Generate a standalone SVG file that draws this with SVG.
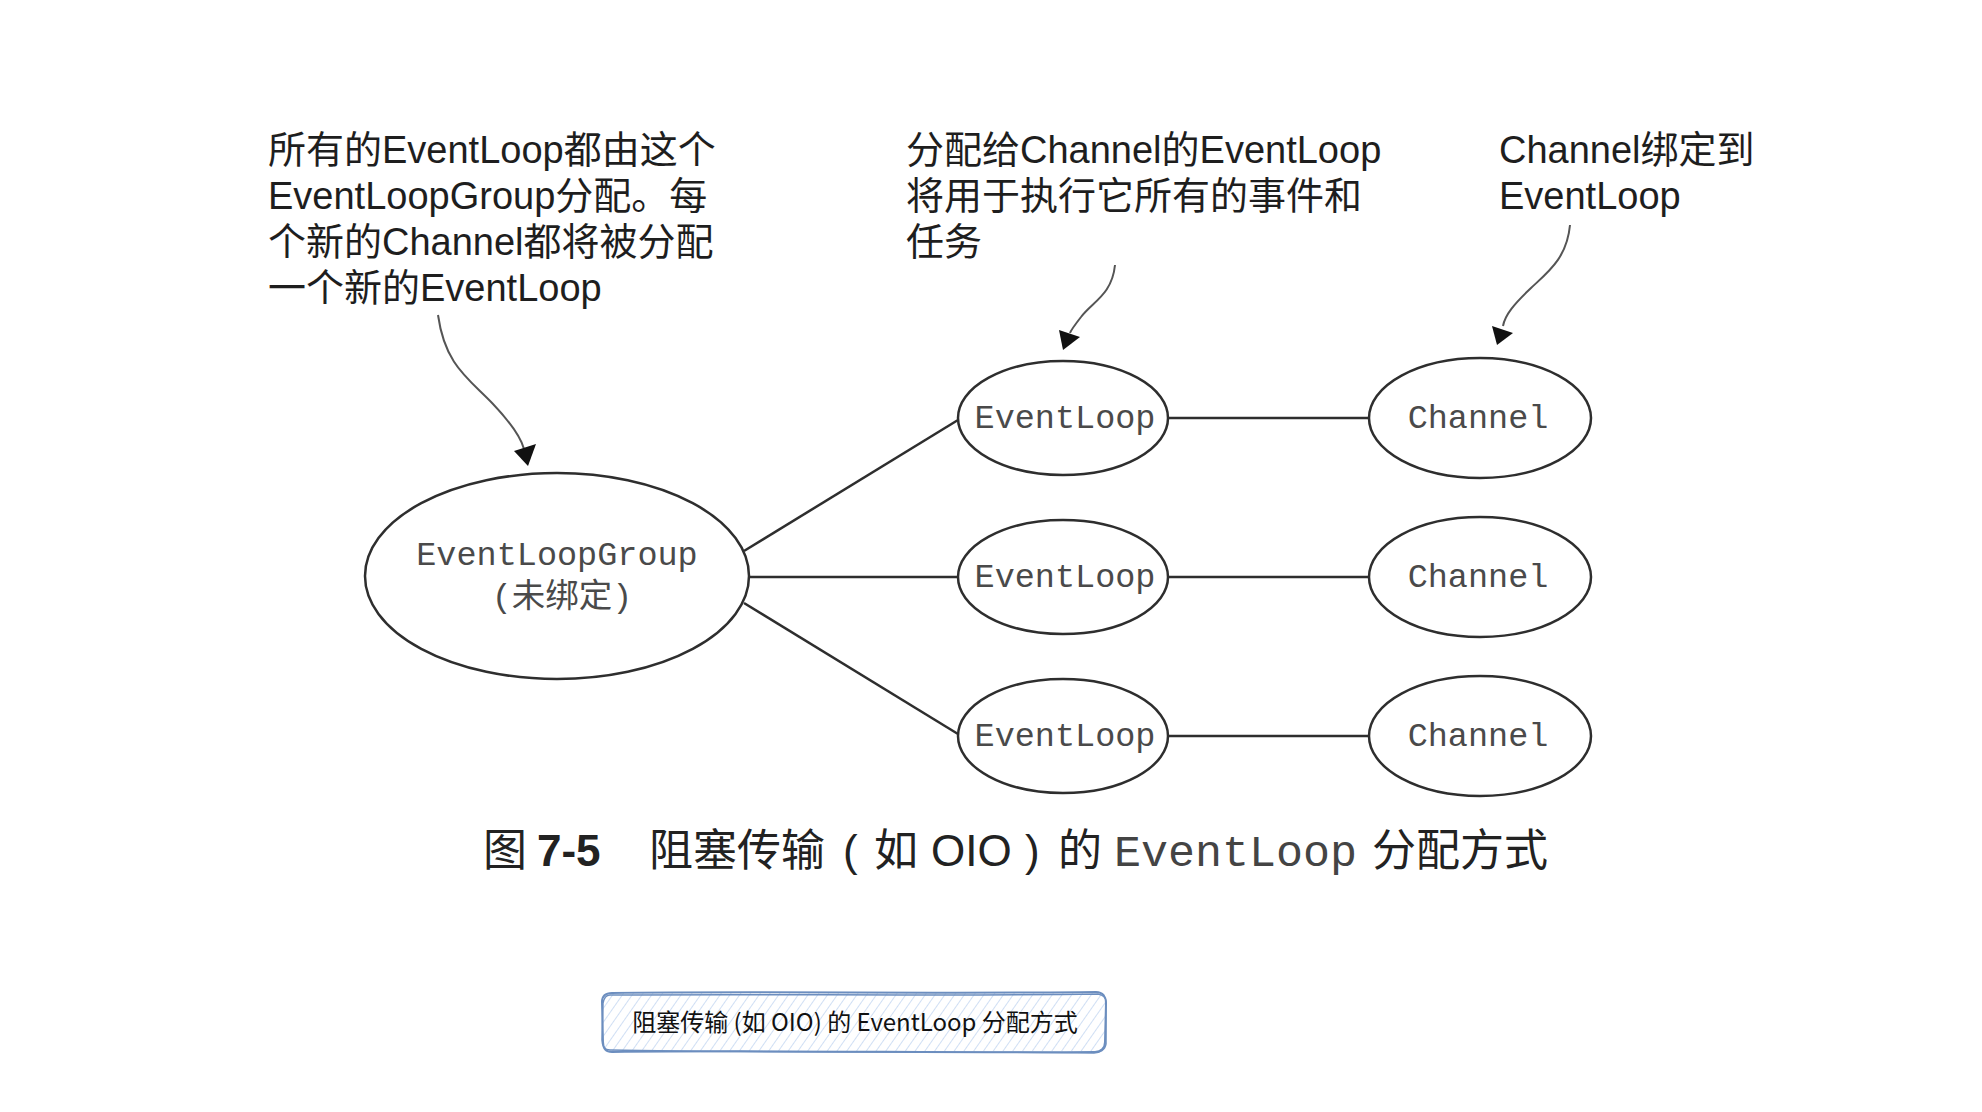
<svg xmlns="http://www.w3.org/2000/svg" width="1982" height="1112" viewBox="0 0 1982 1112">
<style>
.note{font-family:"Liberation Sans","Noto Sans CJK SC",sans-serif;font-size:38px;fill:#1e1e1e}
.node{fill:#fff;stroke:#2e2e2e;stroke-width:2.5}
.mono{font-family:"Liberation Mono","Noto Sans CJK SC",monospace;font-size:33.5px;fill:#4a4a4a;text-anchor:middle}
.edge{stroke:#2e2e2e;stroke-width:2.5;fill:none}
.curve{stroke:#555;stroke-width:2;fill:none}
.head{fill:#111}
.cap{font-family:"Liberation Sans","Noto Sans CJK SC",sans-serif;font-size:44px;fill:#222}
.capmono{font-family:"Liberation Mono",monospace;font-size:45px;fill:#444}
.box{font-family:"Noto Sans CJK SC","Liberation Sans",sans-serif;font-size:24px;fill:#111;text-anchor:middle}
</style>
<defs>
<pattern id="hatch" width="8" height="8" patternUnits="userSpaceOnUse" patternTransform="rotate(35)">
<line x1="0" y1="0" x2="0" y2="8" stroke="#b7cdee" stroke-width="1.3"/>
</pattern>
</defs>
<rect width="1982" height="1112" fill="#fff"/>

<g id="note-group">
<text class="note" x="268" y="163">所有的EventLoop都由这个</text>
<text class="note" x="268" y="209">EventLoopGroup分配。每</text>
<text class="note" x="268" y="255">个新的Channel都将被分配</text>
<text class="note" x="268" y="301">一个新的EventLoop</text>
</g>
<g id="note-eventloop">
<text class="note" x="906" y="163">分配给Channel的EventLoop</text>
<text class="note" x="906" y="209">将用于执行它所有的事件和</text>
<text class="note" x="906" y="255">任务</text>
</g>
<g id="note-channel">
<text class="note" x="1499" y="163">Channel绑定到</text>
<text class="note" x="1499" y="209">EventLoop</text>
</g>

<g id="connectors">
<line class="edge" x1="744" y1="551" x2="958" y2="420"/>
<line class="edge" x1="750" y1="577" x2="958" y2="577"/>
<line class="edge" x1="744" y1="603" x2="958" y2="734"/>
<line class="edge" x1="1168" y1="418" x2="1369" y2="418"/>
<line class="edge" x1="1168" y1="577" x2="1369" y2="577"/>
<line class="edge" x1="1168" y1="736" x2="1369" y2="736"/>
<path class="curve" d="M438,315 C445,365 468,378 493,404 C510,422 521,438 524,449"/>
<polygon class="head" points="514,451 536,444 528,466"/>
<path class="curve" d="M1115,265 C1112,295 1092,302 1081,317 C1074,326 1071,330 1070,333"/>
<polygon class="head" points="1059,330 1080,337 1063,350"/>
<path class="curve" d="M1570,225 C1567,258 1548,272 1531,288 C1514,304 1505,315 1503,326"/>
<polygon class="head" points="1492,326 1513,333 1497,345"/>
</g>

<g id="eventloopgroup">
<ellipse class="node" cx="557" cy="576" rx="192" ry="103"/>
<text class="mono" x="557" y="565">EventLoopGroup</text>
<text class="mono" x="562" y="607">(未绑定)</text>
</g>
<g id="eventloop-1">
<ellipse class="node" cx="1063" cy="418" rx="105" ry="57"/>
<text class="mono" x="1065" y="428">EventLoop</text>
</g>
<g id="eventloop-2">
<ellipse class="node" cx="1063" cy="577" rx="105" ry="57"/>
<text class="mono" x="1065" y="587">EventLoop</text>
</g>
<g id="eventloop-3">
<ellipse class="node" cx="1063" cy="736" rx="105" ry="57"/>
<text class="mono" x="1065" y="746">EventLoop</text>
</g>
<g id="channel-1">
<ellipse class="node" cx="1480" cy="418" rx="111" ry="60"/>
<text class="mono" x="1478" y="428">Channel</text>
</g>
<g id="channel-2">
<ellipse class="node" cx="1480" cy="577" rx="111" ry="60"/>
<text class="mono" x="1478" y="587">Channel</text>
</g>
<g id="channel-3">
<ellipse class="node" cx="1480" cy="736" rx="111" ry="60"/>
<text class="mono" x="1478" y="746">Channel</text>
</g>

<g id="caption">
<text class="cap" y="866"><tspan x="483">图</tspan><tspan x="537" font-weight="bold">7-5</tspan><tspan x="649">阻塞传输</tspan><tspan x="843">(</tspan><tspan x="874">如</tspan><tspan x="931">OIO</tspan><tspan x="1025">)</tspan><tspan x="1058">的</tspan></text>
<text class="capmono" x="1114" y="866">EventLoop</text>
<text class="cap" x="1372" y="866">分配方式</text>
</g>

<g id="title-box">
<rect x="603" y="993" width="502" height="58" rx="9" fill="url(#hatch)"/>
<path d="M612,993 C760,991 950,994 1096,992 C1103,992 1106,997 1106,1003 L1105,1042 C1105,1048 1101,1052 1095,1052 C940,1053 770,1050 612,1052 C606,1052 603,1048 603,1042 L602,1002 C602,996 606,993 612,993 Z" fill="none" stroke="#6c8ebf" stroke-width="2"/>
<path d="M610,995 C770,994 950,996 1098,994 C1104,995 1107,999 1106,1005 L1106,1044 C1105,1050 1100,1053 1094,1053 C930,1051 760,1053 610,1050 C605,1050 602,1046 602,1040 L603,1003 C604,998 606,995 610,995 Z" fill="none" stroke="#6c8ebf" stroke-width="1.5"/>
<text class="box" x="855" y="1031">阻塞传输 (如 OIO) 的 EventLoop 分配方式</text>
</g>
</svg>
